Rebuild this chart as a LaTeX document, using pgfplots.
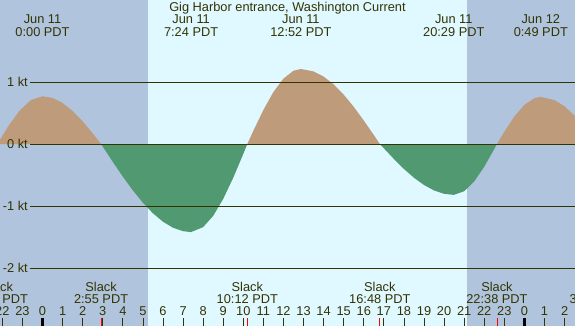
\documentclass[border=0pt]{standalone}
\usepackage{pgfplots}
\pgfplotsset{compat=1.18}
\usepackage{fontspec}
\setmainfont{Liberation Sans}
\definecolor{night}{RGB}{176,196,222}
\definecolor{day}{RGB}{224,248,255}
\definecolor{flood}{RGB}{190,155,123}
\definecolor{ebb}{RGB}{80,153,113}
\definecolor{ink}{RGB}{51,51,0}
\newcommand{\lbl}{\fontsize{12.8}{14}\selectfont}
\begin{document}
\begin{tikzpicture}
\begin{axis}[
  width=575pt, height=326pt, scale only axis,
  xmin=-2.117, xmax=26.52, ymin=-2.935, ymax=2.323,
  axis background/.style={fill=night},
  axis on top,
  axis x line=bottom, axis y line=none,
  x axis line style={draw=none},
  ytick=\empty,
  xtick={-2,...,26},
  xticklabels={22,23,0,1,2,3,4,5,6,7,8,9,10,11,12,13,14,15,16,17,18,19,20,21,22,23,0,1,2},
  xtick align=inside,
  major tick length=8pt,
  tick style={ink, line width=0.8pt},
  xticklabel style={anchor=base, yshift=10pt, font=\lbl, text=ink, inner sep=0pt},
  extra x ticks={0,24}, extra x tick labels={},
  extra x tick style={tick style={black, line width=3pt}},
]
% daylight
\addplot[fill=day, draw=none] coordinates {(5.25,-2.935) (5.25,2.323) (21.14,2.323) (21.14,-2.935)} -- cycle;
% flood / ebb
\addplot[fill=flood, draw=none] coordinates {(-2.25,0) (-1.6875,0.295) (-1.125,0.544) (-0.5625,0.711) (0,0.77) (0.5,0.742) (1,0.661) (1.5,0.532) (2,0.365) (2.5,0.172) (2.917,0)} \closedcycle;
\addplot[fill=ebb, draw=none] coordinates {(2.917,0) (3.5,-0.288) (4,-0.526) (4.5,-0.748) (5,-0.947) (5.5,-1.117) (6,-1.253) (6.5,-1.350) (7,-1.406) (7.4,-1.42) (8,-1.340) (8.5,-1.159) (9,-0.885) (9.5,-0.543) (10,-0.159) (10.2,0)} \closedcycle;
\addplot[fill=flood, draw=none] coordinates {(10.2,0) (10.5,0.213) (11,0.549) (11.5,0.839) (12,1.055) (12.5,1.182) (12.867,1.21) (13.5,1.171) (14,1.088) (14.5,0.962) (15,0.797) (15.5,0.600) (16,0.379) (16.5,0.145) (16.8,0)} \closedcycle;
\addplot[fill=ebb, draw=none] coordinates {(16.8,0) (17.5,-0.241) (18,-0.402) (18.5,-0.544) (19,-0.661) (19.5,-0.749) (20,-0.803) (20.483,-0.82) (21,-0.762) (21.5,-0.604) (22,-0.366) (22.5,-0.080) (22.633,0)} \closedcycle;
\addplot[fill=flood, draw=none] coordinates {(22.633,0) (23,0.198) (23.5,0.444) (24,0.632) (24.5,0.740) (24.817,0.76) (25.5,0.708) (26,0.608) (26.6,0.429) (26.6,0)} \closedcycle;
% level lines
\foreach \v in {1,0,-1,-2}{
  \edef\tmp{\noexpand\addplot[ink, line width=0.8pt] coordinates {(-0.622,\v) (26.6,\v)};}\tmp
}
% level labels
\node[anchor=east, text=ink, font=\lbl, inner sep=0pt] at (axis cs:-0.722,1) {1 kt};
\node[anchor=east, text=ink, font=\lbl, inner sep=0pt] at (axis cs:-0.722,0) {0 kt};
\node[anchor=east, text=ink, font=\lbl, inner sep=0pt] at (axis cs:-0.722,-1) {-1 kt};
\node[anchor=east, text=ink, font=\lbl, inner sep=0pt] at (axis cs:-0.722,-2) {-2 kt};
% slack ticks
\addplot[red, line width=0.8pt] coordinates {(2.917,-2.935) (2.917,-2.806)};
\addplot[red, line width=0.8pt] coordinates {(10.2,-2.935) (10.2,-2.806)};
\addplot[red, line width=0.8pt] coordinates {(16.8,-2.935) (16.8,-2.806)};
\addplot[red, line width=0.8pt] coordinates {(22.633,-2.935) (22.633,-2.806)};
% title
\node[anchor=base, text=ink, font=\lbl, inner sep=0pt] at (axis cs:12.2,2.138) {Gig Harbor entrance, Washington Current};
% extremes
\foreach \x/\d/\t in {0/Jun 11/0:00 PDT, 7.4/Jun 11/7:24 PDT, 12.867/Jun 11/12:52 PDT, 20.483/Jun 11/20:29 PDT, 24.817/Jun 12/0:49 PDT}{
  \edef\tmp{\noexpand\node[anchor=base, text=ink, font=\noexpand\lbl, inner sep=0pt] at (axis cs:\x,1.944) {\d};
  \noexpand\node[anchor=base, text=ink, font=\noexpand\lbl, inner sep=0pt] at (axis cs:\x,1.734) {\t};}\tmp
}
% slacks
\foreach \x/\t in {-2.25/21:44 PDT, 2.917/2:55 PDT, 10.2/10:12 PDT, 16.8/16:48 PDT, 22.633/22:38 PDT, 27.6/3:36 PDT}{
  \edef\tmp{\noexpand\node[anchor=base, text=ink, font=\noexpand\lbl, inner sep=0pt] at (axis cs:\x,-2.379) {Slack};
  \noexpand\node[anchor=base, text=ink, font=\noexpand\lbl, inner sep=0pt] at (axis cs:\x,-2.58) {\t};}\tmp
}
\end{axis}
\pgfresetboundingbox
\path[use as bounding box] (current axis.south west) rectangle (current axis.north east);
\end{tikzpicture}
\end{document}
